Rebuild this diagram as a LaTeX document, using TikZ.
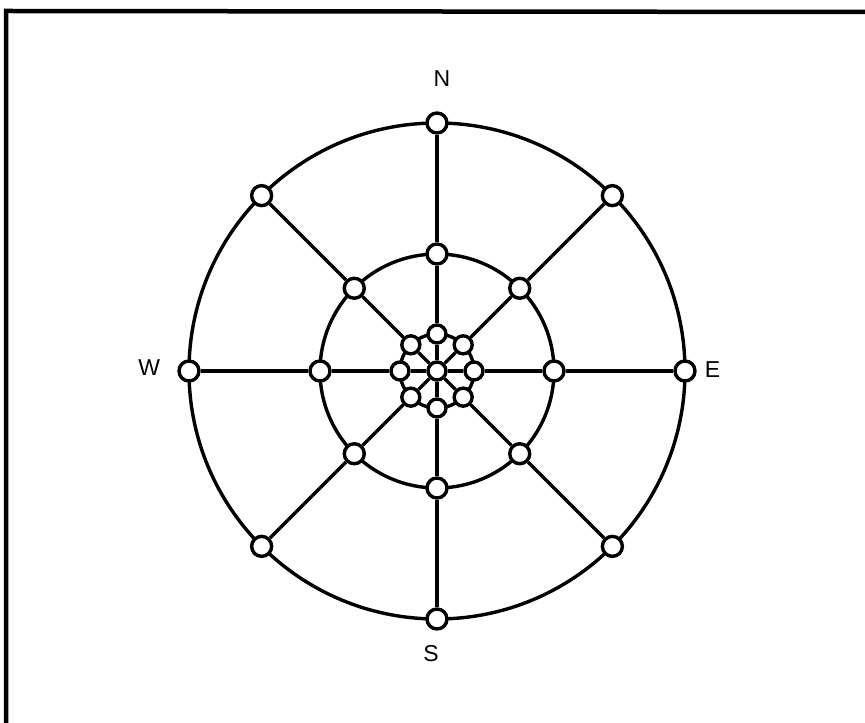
\documentclass[tikz,border=0pt]{standalone}
\usepackage{fontspec}
\setmainfont{Liberation Sans}
\usetikzlibrary{positioning, backgrounds}
\tikzset{
  nodoEstacion/.style={
    circle, draw=black, fill=white, line width=3.4pt,
    minimum size=20pt, inner sep=0pt
  },
  nodoInterior/.style={nodoEstacion, minimum size=18pt},
  lineaRed/.style={line width=3.4pt, black},
  anillo/.style={line width=3.4pt, black},
  etiquetaRumbo/.style={font=\fontsize{23}{26}\selectfont, inner sep=0pt},
  marco/.style={line width=4.5pt, black},
}

\begin{document}
\begin{tikzpicture}[x=1pt, y=1pt]
    \useasboundingbox (0,0) rectangle (865,723);
    \coordinate (centro) at (437,352);
    % estaciones: centro, anillo interior, medio y exterior
    \node[nodoInterior] (c) at (centro) {};
    \foreach \k in {1,...,8} {
      \pgfmathsetmacro{\ang}{90-45*(\k-1)}
      \node[nodoInterior] (i\k) at ([shift={(\ang:37)}]centro) {};
      \node[nodoEstacion] (m\k) at ([shift={(\ang:117)}]centro) {};
      \node[nodoEstacion] (o\k) at ([shift={(\ang:248)}]centro) {};
    }
    % anillos y radios detras
    \begin{scope}[on background layer]
      \draw[anillo] (centro) circle[radius=37];
      \draw[anillo] (centro) circle[radius=117];
      \draw[anillo] (centro) circle[radius=248];
      \foreach \k in {1,...,8}
        \draw[lineaRed] (c) -- (i\k) -- (m\k) -- (o\k);
    \end{scope}
    % puntos cardinales
    \node[etiquetaRumbo, above=25pt of o1, xshift=5pt] (rN) {N};
    \node[etiquetaRumbo, right=8pt of o3, yshift=1pt] (rE) {E};
    \node[etiquetaRumbo, below=15pt of o5, xshift=-6pt] (rS) {S};
    \node[etiquetaRumbo, left=17pt of o7, yshift=3pt] (rW) {W};
    % marco
    \draw[marco] (865,711) -- (6,712) -- (6,0);
  \end{tikzpicture}
\end{document}
